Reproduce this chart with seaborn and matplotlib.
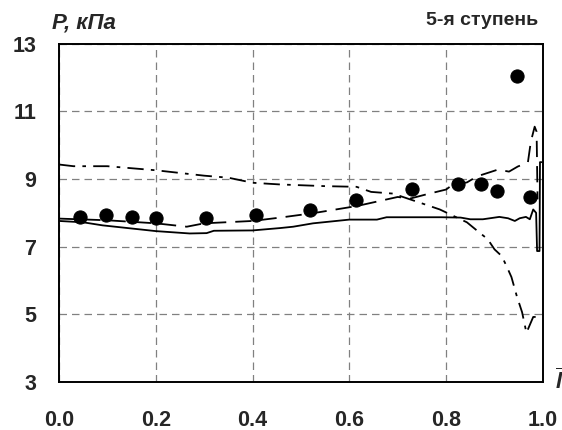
#Importing necessary libraries
import pandas as pd
import seaborn as sns
import matplotlib.pyplot as plt

sns.set_style("white")
plt.rcParams['font.family'] = ['Liberation Sans', 'DejaVu Sans']
plt.rcParams['mathtext.fontset'] = 'custom'
plt.rcParams['mathtext.it'] = 'Liberation Sans:italic:bold'

#experiment points
x_pts = [0.043, 0.097, 0.151, 0.200, 0.304, 0.407, 0.519, 0.614, 0.729,
         0.825, 0.873, 0.906, 0.946, 0.973]
p_pts = [7.88, 7.95, 7.88, 7.84, 7.84, 7.95, 8.07, 8.37, 8.72,
         8.84, 8.84, 8.66, 12.04, 8.48]

#solid line
x_solid = [0.0, 0.05, 0.09, 0.2, 0.27, 0.305, 0.32, 0.40, 0.457, 0.484, 0.525,
           0.60, 0.657, 0.677, 0.79, 0.83, 0.85, 0.876, 0.91, 0.928, 0.942,
           0.952, 0.965, 0.973, 0.98, 0.986, 0.988, 0.993, 0.994, 0.997]
p_solid = [7.76, 7.72, 7.63, 7.46, 7.39, 7.40, 7.47, 7.48, 7.55, 7.59, 7.69,
           7.80, 7.80, 7.87, 7.87, 7.86, 7.81, 7.81, 7.88, 7.84, 7.76,
           7.84, 7.88, 7.81, 8.10, 8.00, 6.87, 6.87, 9.50, 9.50]

#dashed line
x_dash = [0.0, 0.1, 0.2, 0.264, 0.3, 0.40, 0.457, 0.525, 0.615, 0.70, 0.725,
          0.76, 0.80, 0.814, 0.843, 0.864, 0.89, 0.907, 0.93, 0.948, 0.969,
          0.975, 0.983, 0.987, 0.989]
p_dash = [7.83, 7.78, 7.69, 7.59, 7.69, 7.76, 7.86, 7.99, 8.20, 8.47, 8.42,
          8.55, 8.69, 8.84, 8.90, 9.08, 9.20, 9.28, 9.22, 9.37, 9.49,
          10.10, 10.55, 10.40, 8.40]

#dash-dot line
x_dd = [0.0, 0.03, 0.1, 0.2, 0.3, 0.35, 0.4, 0.457, 0.55, 0.615, 0.645, 0.69,
        0.746, 0.787, 0.843, 0.866, 0.886, 0.9, 0.915, 0.925, 0.935, 0.946,
        0.957, 0.966, 0.98, 0.996]
p_dd = [9.43, 9.38, 9.38, 9.26, 9.10, 9.04, 8.89, 8.84, 8.79, 8.77, 8.62, 8.57,
        8.30, 8.10, 7.72, 7.45, 7.22, 6.92, 6.72, 6.42, 6.10, 5.54,
        5.06, 4.45, 4.92, 4.92]

df_pts = pd.DataFrame({'x': x_pts, 'P': p_pts})
df_solid = pd.DataFrame({'x': x_solid, 'P': p_solid})
df_dash = pd.DataFrame({'x': x_dash, 'P': p_dash})
df_dd = pd.DataFrame({'x': x_dd, 'P': p_dd})

fig = plt.figure(figsize=(5.62, 4.30), dpi=100)
ax = fig.add_axes([0.105, 0.112, 0.861, 0.786])

sns.lineplot(data=df_solid, x='x', y='P', ax=ax, color='black', lw=1.3,
             sort=False, estimator=None)
sns.lineplot(data=df_dash, x='x', y='P', ax=ax, color='black', lw=1.3,
             sort=False, estimator=None, dashes=False)
ax.lines[-1].set_dashes([9, 5])
sns.lineplot(data=df_dd, x='x', y='P', ax=ax, color='black', lw=1.3,
             sort=False, estimator=None)
ax.lines[-1].set_dashes([9, 4, 2, 4])
sns.scatterplot(data=df_pts, x='x', y='P', ax=ax, color='black', s=90,
                edgecolor='black', zorder=5)

ax.set_xlim(0, 1)
ax.set_ylim(3, 13)
ax.set_xticks([0.0, 0.2, 0.4, 0.6, 0.8, 1.0])
ax.set_xticklabels(['0.0', '0.2', '0.4', '0.6', '0.8', '1.0'])
ax.set_yticks([3, 5, 7, 9, 11, 13])
ax.grid(True, color='#808080', ls=(0, (6, 4)), lw=0.9)
for sp in ax.spines.values():
    sp.set_color('black')
    sp.set_linewidth(1.4)
ax.tick_params(axis='both', direction='out', length=6.5, width=0.9,
               color='#808080', labelsize=15.5)
ax.tick_params(axis='y', pad=10)
ax.tick_params(axis='x', pad=14)
for lab in ax.get_xticklabels() + ax.get_yticklabels():
    lab.set_fontweight('bold')
ax.set_xlabel('')
ax.set_ylabel('')

ax.text(-0.015, 1.03, 'P, кПа', transform=ax.transAxes, fontsize=16,
        fontweight='bold', fontstyle='italic', ha='left', va='bottom')
ax.text(0.99, 1.045, '5-я ступень', transform=ax.transAxes, fontsize=14,
        fontweight='bold', ha='right', va='bottom')
ax.text(1.024, 0.0, r'$\overline{l}$', transform=ax.transAxes, fontsize=16,
        ha='left', va='center')

plt.savefig('out.png', dpi=100)
